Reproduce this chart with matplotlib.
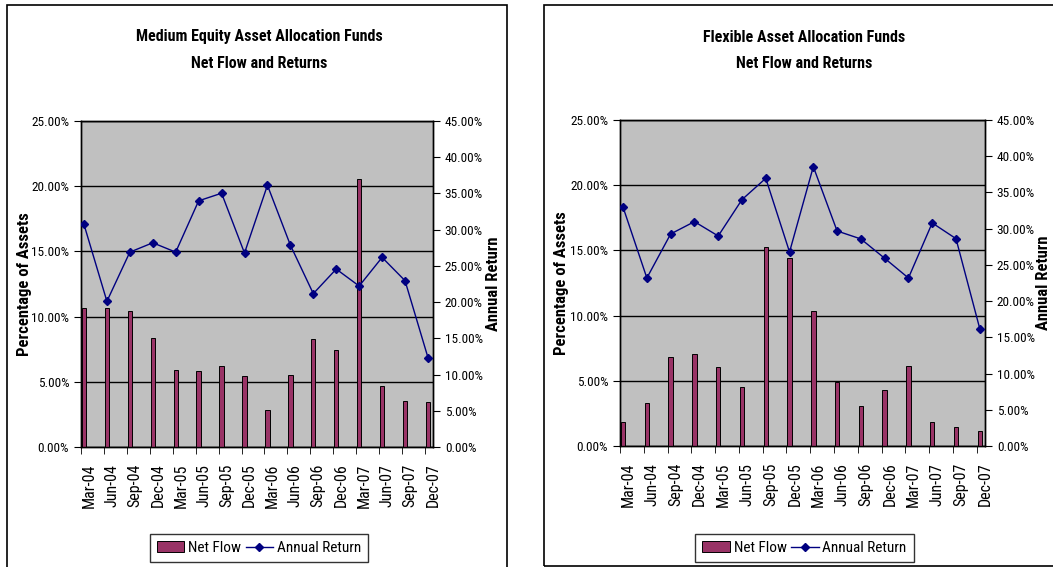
import numpy as np
import matplotlib
matplotlib.use("Agg")
import matplotlib.pyplot as plt
from matplotlib import font_manager as fm
from matplotlib.patches import Rectangle
from matplotlib.ticker import FuncFormatter, MultipleLocator

QUARTERS = [
    "Mar-04", "Jun-04", "Sep-04", "Dec-04", "Mar-05", "Jun-05", "Sep-05",
    "Dec-05", "Mar-06", "Jun-06", "Sep-06", "Dec-06", "Mar-07", "Jun-07",
    "Sep-07", "Dec-07",
]

# net flow as % of assets (left axis)
MEDIUM_NET_FLOW = [10.64, 10.64, 10.46, 8.34, 5.92, 5.82, 6.25, 5.43,
                   2.83, 5.54, 8.27, 7.45, 20.59, 4.64, 3.52, 3.42]
FLEXIBLE_NET_FLOW = [1.81, 3.32, 6.83, 7.03, 6.03, 4.52, 15.24, 14.39,
                     10.33, 4.91, 3.04, 4.32, 6.11, 1.81, 1.43, 1.12]

# annual return in % (right axis)
MEDIUM_RETURN = [30.72, 20.11, 26.90, 28.19, 26.90, 33.98, 35.03, 26.77,
                 36.13, 27.87, 21.17, 24.56, 22.22, 26.17, 22.96, 12.35]
FLEXIBLE_RETURN = [32.95, 23.19, 29.27, 30.97, 28.99, 34.01, 36.95, 26.78,
                   38.56, 29.68, 28.58, 25.91, 23.19, 30.79, 28.62, 16.20]

W, H = 1053, 567
BAR_COLOR = "#993366"
LINE_COLOR = "#000080"
PLOT_BG = "#C0C0C0"


def pick_font() -> list[str]:
    """Pick an Arial Narrow look-alike if one is installed."""
    names = {f.name for f in fm.fontManager.ttflist}
    for cand in ("Liberation Sans Narrow", "Arial Narrow",
                 "Nimbus Sans Narrow", "Roboto Condensed", "Archivo Narrow",
                 "PT Sans Narrow", "Barlow Semi Condensed"):
        if cand in names:
            return [cand, "Liberation Sans", "DejaVu Sans"]
    return ["Liberation Sans", "DejaVu Sans"]


FONT = pick_font()


def fig_rect(x0, y0, x1, y1):
    """Convert pixel box (from top left) to figure fraction rect."""
    return [x0 / W, 1 - y1 / H, (x1 - x0) / W, (y1 - y0) / H]


def pct(v, _pos):
    return f"{v:.2f}%"


def draw_panel(fig, box, plot_box, title, flows, returns, right_lab_x):
    """
    Draw one framed panel with net flow bars and annual return line.
    """
    x0, y0, x1, y1 = box
    fig.patches.append(Rectangle(
        (x0 / W, 1 - y1 / H), (x1 - x0) / W, (y1 - y0) / H,
        transform=fig.transFigure, fill=False, edgecolor="black",
        linewidth=1.2, zorder=0))

    cx = (plot_box[0] + plot_box[2]) / 2 + 2
    fig.text(cx / W, 1 - 37 / H, title[0], ha="center", va="center",
             fontsize=11.5, fontweight="bold", family=FONT)
    fig.text(cx / W, 1 - 64 / H, title[1], ha="center", va="center",
             fontsize=11.5, fontweight="bold", family=FONT)

    ax = fig.add_axes(fig_rect(*plot_box))
    ax.set_facecolor(PLOT_BG)
    x = np.arange(len(QUARTERS))

    ax.bar(x, flows, width=0.19, color=BAR_COLOR, edgecolor="black",
           linewidth=0.7, zorder=3, label="Net Flow")
    ax.set_ylim(0, 25)
    ax.set_xlim(-0.13, len(QUARTERS) - 0.85)
    ax.yaxis.set_major_locator(MultipleLocator(5))
    ax.yaxis.set_major_formatter(FuncFormatter(pct))
    ax.grid(axis="y", color="black", linewidth=1.0, zorder=1)

    ax.set_xticks(x + 0.22)
    ax.set_xticklabels(QUARTERS, rotation=90, family=FONT, fontsize=11.5)
    ax.set_xticks(x - 0.13, minor=True)
    ax.tick_params(axis="x", which="major", length=0, pad=12)
    ax.tick_params(axis="x", which="minor", length=5, direction="out")
    ax.tick_params(axis="y", length=5, direction="out", labelsize=9.5)
    for lab in ax.get_yticklabels():
        lab.set_family(FONT)
    ax.set_ylabel("Percentage of Assets", fontsize=12, fontweight="bold",
                  family=FONT)
    ax.yaxis.set_label_coords(-0.14, 0.5)

    ax2 = ax.twinx()
    ax2.plot(x, returns, color=LINE_COLOR, linewidth=1.0, marker="D",
             markersize=4.5, zorder=4, label="Annual Return")
    ax2.set_ylim(0, 45)
    ax2.yaxis.set_major_locator(MultipleLocator(5))
    ax2.yaxis.set_major_formatter(FuncFormatter(pct))
    ax2.tick_params(axis="y", length=5, direction="out", labelsize=9.5)
    for lab in ax2.get_yticklabels():
        lab.set_family(FONT)
    ax2.set_ylabel("Annual Return", fontsize=12, fontweight="bold",
                   family=FONT, rotation=90)
    ax2.yaxis.set_label_coords(right_lab_x, 0.5)

    for a in (ax, ax2):
        for s in a.spines.values():
            s.set_color("black")
            s.set_linewidth(1.0)

    handles = ax.get_legend_handles_labels()[0] + \
        ax2.get_legend_handles_labels()[0]
    leg = fig.legend(handles, ["Net Flow", "Annual Return"], ncol=2,
                     loc="center", bbox_to_anchor=(cx / W, 1 - 548 / H),
                     frameon=True, fancybox=False, edgecolor="black",
                     prop={"family": FONT, "size": 11},
                     handlelength=1.8, handletextpad=0.25, columnspacing=0.3,
                     borderpad=0.45)
    leg.get_frame().set_linewidth(1.0)


def main() -> int:
    fig = plt.figure(figsize=(W / 100, H / 100), dpi=100)

    draw_panel(fig, (7, 5, 507, 575), (81, 121, 433, 447),
               ("Medium Equity Asset Allocation Funds",
                "Net Flow and Returns"),
               MEDIUM_NET_FLOW, MEDIUM_RETURN, 1.15)
    draw_panel(fig, (544, 5, 1060, 566), (620, 120, 985, 446),
               ("Flexible Asset Allocation Funds", "Net Flow and Returns"),
               FLEXIBLE_NET_FLOW, FLEXIBLE_RETURN, 1.14)

    fig.savefig("out.png", dpi=100)
    return 0


if __name__ == "__main__":
    main()
